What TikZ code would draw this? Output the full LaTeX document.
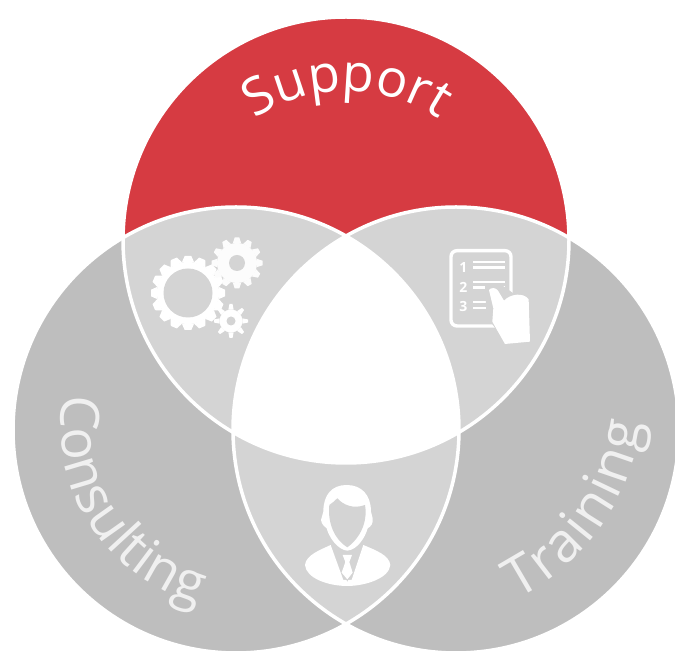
\documentclass[tikz,border=0pt]{standalone}
\usepackage{fontspec}
\setmainfont{Open Sans}
\usetikzlibrary{decorations.text,calc}
\definecolor{redfill}{HTML}{D63B42}
\definecolor{greyfill}{HTML}{BEBEBE}
\definecolor{lightfill}{HTML}{D4D4D4}
\newcommand{\gearicon}[7]{% x y outer root hole teeth colour
  \fill[#7] (#1,#2) circle[radius=#4 pt];
  \pgfmathsetmacro{\gstep}{360/#6}
  \foreach \gi in {1,...,#6}{
    \pgfmathsetmacro{\ga}{\gi*\gstep}
    \fill[#7,shift={(#1,#2)},rotate=\ga]
      (-#3*0.11pt-#4*0.07pt,#4*0.98pt) -- (-#3*0.09pt,#3*1pt) -- (#3*0.09pt,#3*1pt) -- (#3*0.11pt+#4*0.07pt,#4*0.98pt) -- cycle;
  }
  \fill[lightfill] (#1,#2) circle[radius=#5 pt];
}
\tikzset{
  linework/.style={draw=white,line width=3.5pt},
  iconfill/.style={fill=white,draw=none}
}
\begin{document}
\begin{tikzpicture}[x=1pt,y=1pt]
\useasboundingbox (0,0) rectangle (675,653);
\fill[white] (0,0) rectangle (675,653);
\coordinate (T) at (346,413);
\coordinate (L) at (236,223);
\coordinate (R) at (456,223);
\coordinate (supc) at (347,398);
\coordinate (conc) at (246,228);
\coordinate (trac) at (416,256);
\def\rr{223pt}
% circles
\fill[greyfill] (L) circle[radius=\rr];
\fill[greyfill] (R) circle[radius=\rr];
\fill[redfill] (T) circle[radius=\rr];
\begin{scope}
  \clip (L) circle[radius=\rr];
  \fill[lightfill] (T) circle[radius=\rr];
  \fill[lightfill] (R) circle[radius=\rr];
\end{scope}
\begin{scope}
  \clip (R) circle[radius=\rr];
  \fill[lightfill] (T) circle[radius=\rr];
\end{scope}
\begin{scope}
  \clip (L) circle[radius=\rr];
  \clip (R) circle[radius=\rr];
  \fill[white] (T) circle[radius=\rr];
\end{scope}
\draw[linework] (T) circle[radius=\rr];
\draw[linework] (L) circle[radius=\rr];
\draw[linework] (R) circle[radius=\rr];
% curved labels
\path[decorate,decoration={text along path,text align=center,
  text={|\fontsize{52}{52}\selectfont\color{white}|Support}}]
  ($(supc)+(140:164pt)$) arc[start angle=140,end angle=40,radius=164pt];
\path[decorate,decoration={text along path,text align={fit to path},
  text={|\fontsize{54}{54}\selectfont\color{white!94!black}|Consulting}}]
  ($(conc)+(170.5:185pt)$) arc[start angle=170.5,end angle=255,radius=185pt];
\path[decorate,decoration={text along path,text align={fit to path},
  text={|\fontsize{55}{55}\selectfont\color{white!94!black}|Training}}]
  ($(trac)+(-63.5:226pt)$) arc[start angle=-63.5,end angle=-6.5,radius=226pt];
% gears
\gearicon{188}{360}{37}{31}{24.5}{16}{white}
\gearicon{237}{390}{25.5}{20}{8}{12}{white!92!lightfill}
\gearicon{231}{332}{17}{11.5}{4.5}{8}{white}
% list icon
\begin{scope}[shift={(430pt,423pt)},x=0.3333pt,y=-0.3333pt]
  \draw[white,line width=3.4pt,rounded corners=6pt] (63,62) rectangle (243,288);
  \node[text=white,font=\bfseries\fontsize{14}{14}\selectfont,inner sep=0pt] (n1) at (100,112) {1};
  \node[text=white,font=\bfseries\fontsize{14}{14}\selectfont,inner sep=0pt] (n2) at (100,172) {2};
  \node[text=white,font=\bfseries\fontsize{14}{14}\selectfont,inner sep=0pt] (n3) at (100,230) {3};
  \fill[white] (130,92) rectangle (225,100);
  \fill[white] (130,108) rectangle (225,116);
  \fill[white] (130,152) rectangle (225,160);
  \fill[white] (130,168) rectangle (225,176);
  \fill[white] (130,212) rectangle (180,220);
  \fill[white] (130,230) rectangle (180,238);
  \fill[lightfill] (165,165) -- (215,165) -- (250,190) -- (250,300) -- (200,300) -- (170,260) -- cycle;
  \fill[iconfill] (177,180) .. controls (182,172) and (198,172) .. (204,182) -- (222,212)
     .. controls (240,192) and (280,186) .. (296,208)
     -- (300,335) -- (225,342) -- (187,275) -- (190,235) -- cycle;
\end{scope}
% person icon
\begin{scope}[shift={(290pt,183pt)},x=0.3333pt,y=-0.3333pt]
  \fill[iconfill] (170,45) .. controls (125,45) and (100,75) .. (100,125)
     -- (93,150) .. controls (95,165) and (105,170) .. (110,175)
     .. controls (118,205) and (145,240) .. (172,242)
     .. controls (200,240) and (225,205) .. (233,175)
     .. controls (243,170) and (250,160) .. (248,145)
     -- (243,125) .. controls (243,75) and (215,45) .. (170,45) -- cycle;
  \fill[lightfill] (118,105) .. controls (128,100) and (135,90) .. (142,85)
     .. controls (160,105) and (190,118) .. (225,105)
     .. controls (232,140) and (222,195) .. (172,232)
     .. controls (135,210) and (112,160) .. (118,105) -- cycle;
  % shoulders
  \fill[iconfill] (45,285) .. controls (48,255) and (90,240) .. (122,225)
     -- (160,330) -- (185,330) -- (220,225)
     .. controls (255,240) and (298,255) .. (301,285)
     .. controls (298,325) and (225,348) .. (172,348)
     .. controls (115,348) and (48,325) .. (45,285) -- cycle;
  % tie
  \fill[lightfill] (130,232) -- (170,250) -- (212,232) -- (188,300) -- (172,335) -- (155,300) -- cycle;
  \fill[iconfill] (158,255) -- (186,255) -- (178,276) -- (188,308) -- (172,328) -- (155,308) -- (166,276) -- cycle;
\end{scope}
\end{tikzpicture}
\end{document}
